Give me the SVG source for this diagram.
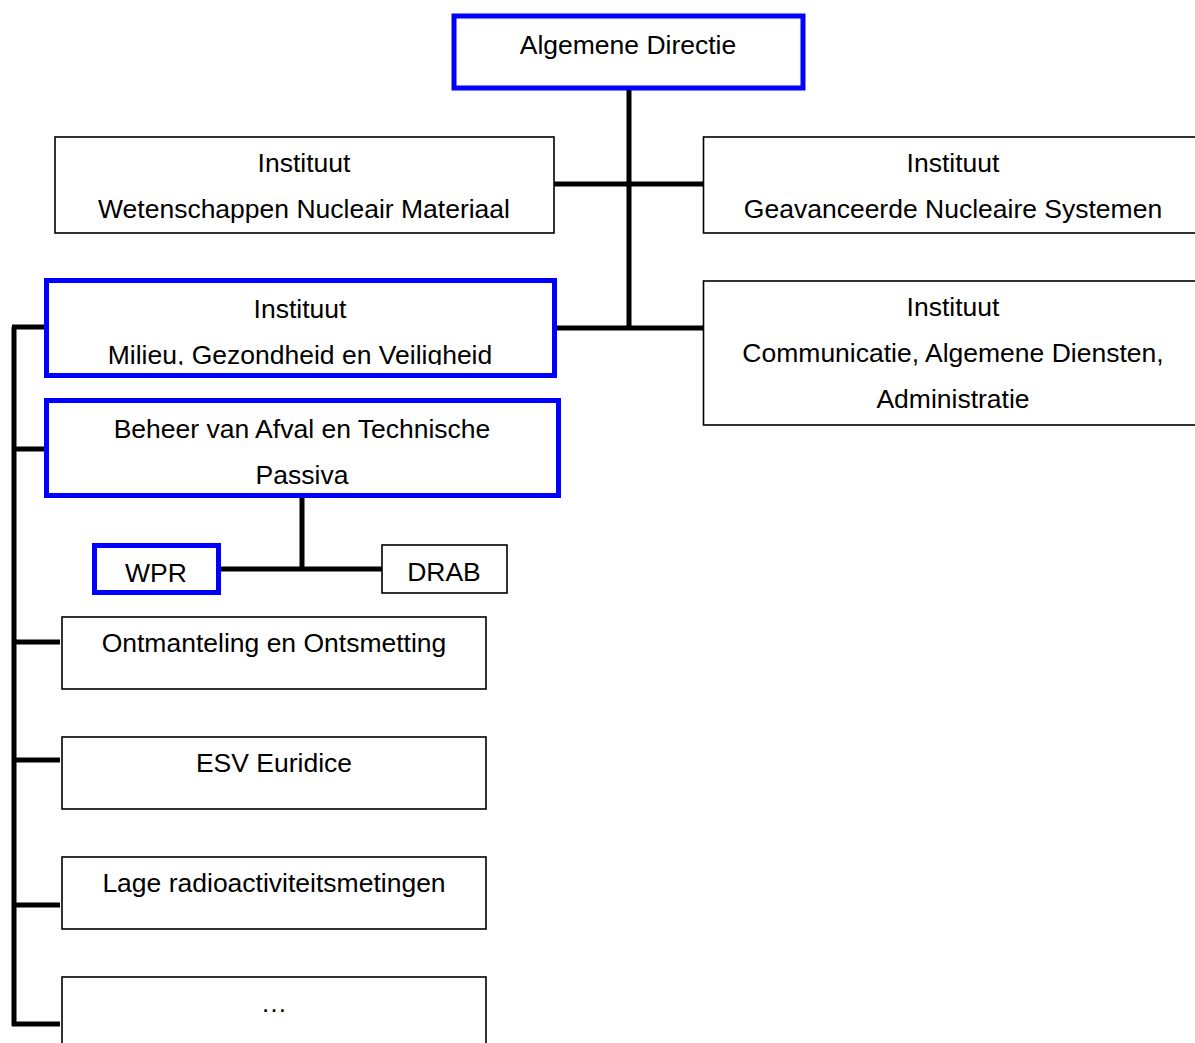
<svg xmlns="http://www.w3.org/2000/svg" width="1195" height="1043" viewBox="0 0 1195 1043">
<style>
.b{fill:#fff;stroke:#000;stroke-width:1.6}
.h{fill:#fff;stroke:#0000ff;stroke-width:5}
.t{font-family:"Liberation Sans",Arial,sans-serif;font-size:26.5px;fill:#000;text-anchor:middle}
.c{stroke:#000;stroke-width:5;fill:none}
</style>
<defs>
<clipPath id="clipMGV"><rect x="47" y="282" width="506" height="83"/></clipPath>
</defs>
<rect width="1195" height="1043" fill="#fff"/>
<g id="connectors">
<line class="c" x1="629" y1="89" x2="629" y2="328"/>
<line class="c" x1="554" y1="184" x2="704" y2="184"/>
<line class="c" x1="554" y1="328" x2="704" y2="328"/>
<line class="c" x1="14" y1="327" x2="14" y2="1026"/>
<line class="c" x1="12" y1="327" x2="46" y2="327"/>
<line class="c" x1="12" y1="449" x2="46" y2="449"/>
<line class="c" x1="12" y1="642" x2="60" y2="642"/>
<line class="c" x1="12" y1="760" x2="60" y2="760"/>
<line class="c" x1="12" y1="905" x2="60" y2="905"/>
<line class="c" x1="12" y1="1024" x2="60" y2="1024"/>
<line class="c" x1="302" y1="497" x2="302" y2="569"/>
<line class="c" x1="220" y1="569" x2="382" y2="569"/>
</g>
<g id="n-algemene">
<rect class="h" x="454" y="16" width="349" height="72"/>
<text class="t" x="628" y="54">Algemene Directie</text>
</g>
<g id="n-wnm">
<rect class="b" x="55" y="137" width="499" height="96"/>
<text class="t" x="304" y="172">Instituut</text>
<text class="t" x="304" y="218">Wetenschappen Nucleair Materiaal</text>
</g>
<g id="n-gns">
<rect class="b" x="703.5" y="137" width="500" height="96"/>
<text class="t" x="953" y="172">Instituut</text>
<text class="t" x="953" y="218">Geavanceerde Nucleaire Systemen</text>
</g>
<g id="n-mgv">
<rect class="h" x="46.5" y="280.5" width="508" height="95"/>
<g clip-path="url(#clipMGV)">
<text class="t" x="300" y="318">Instituut</text>
<text class="t" x="300" y="364">Milieu, Gezondheid en Veiligheid</text>
</g>
</g>
<g id="n-caa">
<rect class="b" x="703.5" y="281" width="500" height="144"/>
<text class="t" x="953" y="316">Instituut</text>
<text class="t" x="953" y="362">Communicatie, Algemene Diensten,</text>
<text class="t" x="953" y="408">Administratie</text>
</g>
<g id="n-batp">
<rect class="h" x="46.5" y="400.5" width="512" height="95"/>
<text class="t" x="302" y="438">Beheer van Afval en Technische</text>
<text class="t" x="302" y="484">Passiva</text>
</g>
<g id="n-wpr">
<rect class="h" x="94.5" y="545.5" width="124" height="47"/>
<text class="t" x="156" y="582">WPR</text>
</g>
<g id="n-drab">
<rect class="b" x="382" y="545" width="125" height="48"/>
<text class="t" x="444" y="581">DRAB</text>
</g>
<g id="n-oo">
<rect class="b" x="62" y="617" width="424" height="72"/>
<text class="t" x="274" y="652">Ontmanteling en Ontsmetting</text>
</g>
<g id="n-esv">
<rect class="b" x="62" y="737" width="424" height="72"/>
<text class="t" x="274" y="772">ESV Euridice</text>
</g>
<g id="n-lage">
<rect class="b" x="62" y="857" width="424" height="72"/>
<text class="t" x="274" y="892">Lage radioactiviteitsmetingen</text>
</g>
<g id="n-etc">
<rect class="b" x="62" y="977" width="424" height="72"/>
<text class="t" x="274" y="1012">…</text>
</g>
</svg>
